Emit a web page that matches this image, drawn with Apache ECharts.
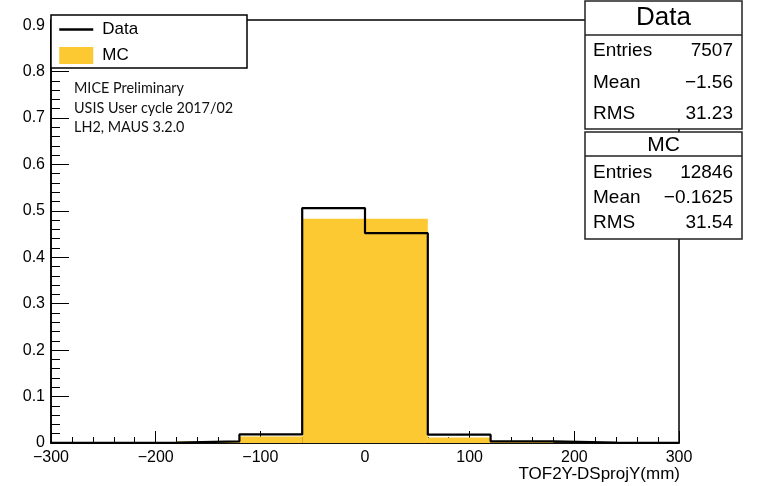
<!DOCTYPE html>
<html>
<head>
<meta charset="utf-8">
<script src="https://cdn.jsdelivr.net/npm/echarts@6/dist/echarts.min.js"></script>
<style>html,body{margin:0;padding:0;background:#fff;}#c{width:757px;height:486px;}</style>
</head>
<body>
<div id="c"></div>
<script>
const binEdges = [-300, -240, -180, -120, -60, 0, 60, 120, 180, 240, 300];
const dataValues = [0.0003, 0.0006, 0.0035, 0.0185, 0.506, 0.452, 0.018, 0.0035, 0.0006, 0.0002];
const mcValues = [0.0001, 0.0003, 0.003, 0.014, 0.483, 0.483, 0.012, 0.003, 0.0004, 0.0001];
const xTicks = [-300, -200, -100, 0, 100, 200, 300];
const yTicks = [0, 0.1, 0.2, 0.3, 0.4, 0.5, 0.6, 0.7, 0.8, 0.9];
const annotations = ['MICE Preliminary', 'USIS User cycle 2017/02', 'LH2, MAUS 3.2.0'];
const dataStats = [['Entries', '7507'], ['Mean', '\u22121.56'], ['RMS', '31.23']];
const mcStats = [['Entries', '12846'], ['Mean', '\u22120.1625'], ['RMS', '31.54']];
const xTitle = 'TOF2Y-DSprojY(mm)';

const FONT = '"Liberation Sans", Arial, sans-serif';
const MC_COLOR = '#fdc932';

const mcBins = mcValues.map((v, i) => [binEdges[i], binEdges[i + 1], v]);
const dataLine = dataValues.map((v, i) => [binEdges[i], v]);
dataLine.push([binEdges[binEdges.length - 1], dataValues[dataValues.length - 1]]);

const chart = echarts.init(document.getElementById('c'));

const graphics = [];
// legend box
graphics.push({type: 'rect', z: 5, shape: {x: 51, y: 15, width: 196, height: 53},
  style: {fill: '#fff', stroke: '#000', lineWidth: 1.5}});
// annotations
const annY = [88, 108, 127];
annotations.forEach((t, i) => graphics.push({type: 'text', z: 6, x: 74, y: annY[i],
  style: {text: t, fill: '#111', font: '14.4px Lato, "Open Sans", sans-serif', textVerticalAlign: 'middle', textAlign: 'left'}}));
// stats boxes
function statBox(x, y, w, h, sepY, title, titleSize, titleY, rows, rowYs) {
  graphics.push({type: 'rect', z: 5, shape: {x: x, y: y, width: w, height: h},
    style: {fill: '#fff', stroke: '#222', lineWidth: 1.5}});
  graphics.push({type: 'line', z: 6, shape: {x1: x, y1: sepY, x2: x + w, y2: sepY},
    style: {stroke: '#222', lineWidth: 1.5}});
  graphics.push({type: 'text', z: 6, x: x + w / 2, y: titleY,
    style: {text: title, fill: '#000', font: titleSize + 'px ' + FONT, textAlign: 'center', textVerticalAlign: 'middle'}});
  rows.forEach((r, i) => {
    graphics.push({type: 'text', z: 6, x: x + 8, y: rowYs[i],
      style: {text: r[0], fill: '#000', font: '19px ' + FONT, textAlign: 'left', textVerticalAlign: 'middle'}});
    graphics.push({type: 'text', z: 6, x: x + w - 9, y: rowYs[i],
      style: {text: r[1], fill: '#000', font: '19px ' + FONT, textAlign: 'right', textVerticalAlign: 'middle'}});
  });
}
statBox(585, 1, 157, 128, 35, 'Data', 26, 18, dataStats, [51, 83, 114]);
statBox(585, 132, 157, 107, 156, 'MC', 21, 145, mcStats, [173, 198, 223]);
// x title
graphics.push({type: 'text', z: 6, x: 680, y: 474,
  style: {text: xTitle, fill: '#000', font: '17px ' + FONT, textAlign: 'right', textVerticalAlign: 'middle'}});

chart.setOption({
  animation: false,
  backgroundColor: '#fff',
  grid: {left: 51, right: 78, top: 20, bottom: 43, show: true, borderColor: '#000', borderWidth: 1.5, backgroundColor: 'transparent'},
  legend: {
    z: 10, orient: 'vertical', left: 53, top: 16, itemWidth: 34, itemHeight: 17, itemGap: 9,
    textStyle: {fontFamily: FONT, fontSize: 17, color: '#000', padding: [0, 0, 0, 4]},
    data: [{name: 'Data', itemStyle: {opacity: 0}, lineStyle: {width: 2.5, color: '#000'}}, {name: 'MC', icon: 'rect'}]
  },
  xAxis: {
    type: 'value', min: xTicks[0], max: xTicks[xTicks.length - 1], interval: 100,
    axisLine: {show: true, onZero: false, lineStyle: {color: '#000', width: 1.5}},
    axisTick: {show: true, inside: true, length: 12, lineStyle: {color: '#000', width: 1}},
    minorTick: {show: true, splitNumber: 5, length: 6, lineStyle: {color: '#000', width: 1}},
    splitLine: {show: false},
    axisLabel: {margin: 7, fontFamily: FONT, fontSize: 16, color: '#000',
      formatter: v => String(v).replace('-', '\u2212')}
  },
  yAxis: {
    type: 'value', min: yTicks[0], max: 0.911, interval: 0.1,
    axisLine: {show: true, onZero: false, lineStyle: {color: '#000', width: 1.5}},
    axisTick: {show: true, inside: true, length: 18, lineStyle: {color: '#000', width: 1}},
    minorTick: {show: true, splitNumber: 5, length: 9, lineStyle: {color: '#000', width: 1}},
    splitLine: {show: false},
    axisLabel: {margin: 6, fontFamily: FONT, fontSize: 16, color: '#000', showMaxLabel: false,
      formatter: v => (v === 0 ? '0' : (Math.round(v * 10) / 10).toFixed(1))}
  },
  series: [
    {
      name: 'MC', type: 'custom', z: 2, clip: true,
      itemStyle: {color: MC_COLOR},
      encode: {x: [0, 1], y: 2},
      data: mcBins,
      renderItem: function (params, api) {
        const p1 = api.coord([api.value(0), api.value(2)]);
        const p2 = api.coord([api.value(1), 0]);
        return {type: 'rect', shape: {x: p1[0], y: p1[1], width: p2[0] - p1[0], height: p2[1] - p1[1]},
          style: {fill: MC_COLOR}};
      }
    },
    {
      name: 'Data', type: 'line', z: 3, step: 'end', symbol: 'none', showSymbol: false,
      lineStyle: {color: '#000', width: 2.2}, itemStyle: {color: '#000'},
      data: dataLine
    }
  ],
  graphic: graphics
});
</script>
</body>
</html>
